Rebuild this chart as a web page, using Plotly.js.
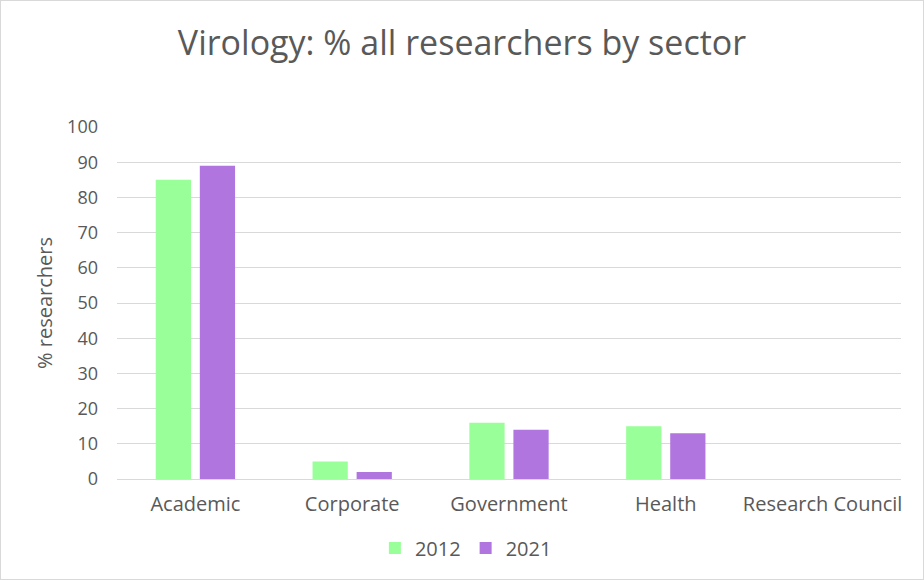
<!DOCTYPE html>
<html>
<head>
<meta charset="utf-8">
<script src="https://cdn.plot.ly/plotly-3.0.1.min.js"></script>
<style>
html,body{margin:0;padding:0;background:#fff;}
#chart{width:922px;height:578px;border:1px solid #d9d9d9;}
</style>
</head>
<body>
<div id="chart"></div>
<script>
const categories = ["Academic", "Corporate", "Government", "Health", "Research Council"];
const values2012 = [85, 5, 16, 15, 0];
const values2021 = [89, 2, 14, 13, 0];
const seriesNames = ["2012", "2021"];
const yTicks = [0, 10, 20, 30, 40, 50, 60, 70, 80, 90, 100];

const fontFam = "'Open Sans', sans-serif";
const textColor = "#595959";

const traces = [
  {type: "bar", name: seriesNames[0], x: categories, y: values2012,
   marker: {color: "#99ff99", line: {width: 0}}},
  {type: "bar", name: seriesNames[1], x: categories, y: values2021,
   marker: {color: "#b175e0", line: {width: 0}}}
];

const layout = {
  width: 922, height: 578,
  paper_bgcolor: "#ffffff", plot_bgcolor: "#ffffff",
  margin: {l: 116, r: 22, t: 126, b: 100},
  barmode: "group", bargap: 0.438, bargroupgap: 0.2,
  font: {family: fontFam, color: textColor, size: 18},
  title: {text: "Virology: % all researchers by sector", font: {family: fontFam, size: 34, color: textColor},
          x: 0.5, xanchor: "center", y: 0.927, yanchor: "middle", yref: "container"},
  xaxis: {showgrid: false, showline: true, linecolor: "#d9d9d9", linewidth: 1, ticks: "",
          ticklabelstandoff: 7, tickfont: {size: 20, color: textColor}, fixedrange: true},
  yaxis: {range: [0, 100], tickvals: yTicks, showgrid: true, gridcolor: "#d9d9d9", gridwidth: 1,
          zeroline: false, showline: false, ticks: "", ticklen: 0, ticklabelstandoff: 18,
          tickfont: {size: 18, color: textColor},
          title: {text: "% researchers", font: {size: 20, color: textColor}, standoff: 9}},
  legend: {orientation: "h", x: 0.445, xanchor: "center", y: -0.196, yanchor: "middle",
           font: {size: 20, color: textColor}, itemwidth: 30, tracegroupgap: 0},
  showlegend: true
};

Plotly.newPlot("chart", traces, layout, {displayModeBar: false, staticPlot: true});
</script>
</body>
</html>
